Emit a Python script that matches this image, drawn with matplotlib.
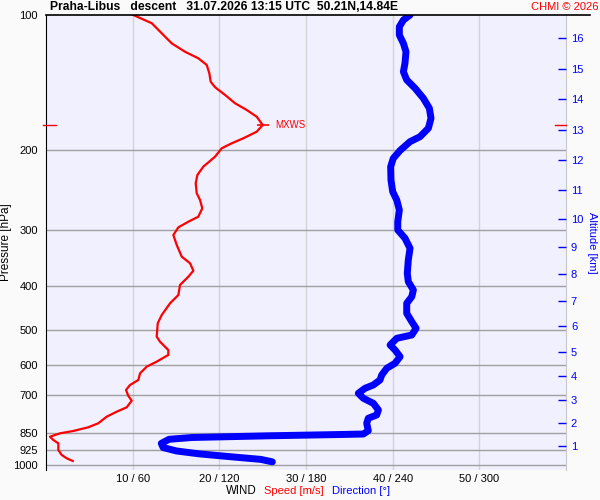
"""
Wind speed / direction profile from a radiosonde descent (CHMI Praha-Libus).
"""
import matplotlib
matplotlib.use("Agg")
import matplotlib.pyplot as plt
import matplotlib.transforms as mtransforms
from matplotlib.lines import Line2D

plt.rcParams["font.family"] = ["Liberation Sans", "DejaVu Sans"]

# wind speed profile, m/s against pressure, hPa
SPEED_P = [100, 104.3, 109.8, 115.6, 120.7, 124.8, 129.1, 134.7, 140.7, 144.7,
           150.5, 157.1, 162.6, 168.3, 175.6, 181.7, 187.9, 192.8, 197.8, 206.5,
           217.3, 226.8, 236.6, 249.0, 257.7, 268.9, 280.7, 288.0, 296.4, 308.3,
           324.4, 344.4, 356.3, 370.0, 381.6, 398.1, 419.0, 437.2, 464.2, 484.3,
           518.7, 532.1, 555.2, 569.5, 589.3, 604.6, 625.5, 647.3, 664.1, 681.3,
           702.5, 719.6, 744.4, 761.3, 781.0, 807.8, 824.5, 840.3, 850.4, 865.2,
           879.9, 895.0, 926.1, 950.1, 966.3, 979.7]
SPEED = [10.07, 12.2, 13.35, 14.5, 16.04, 17.57, 18.54, 18.84, 19.0, 19.5,
         20.65, 21.81, 23.16, 24.31, 25.0, 24.31, 22.77, 21.43, 20.27, 19.5,
         18.15, 17.46, 17.27, 17.39, 17.77, 18.03, 17.57, 16.42, 15.27, 14.69,
         15.08, 15.66, 16.62, 17.0, 16.42, 15.46, 15.27, 14.31, 13.35, 12.89,
         12.77, 13.15, 14.11, 14.11, 12.77, 11.62, 10.85, 10.65, 9.69, 9.23,
         9.5, 9.89, 9.31, 8.16, 7.0, 6.03, 4.88, 3.15, 1.62, 0.46,
         0.84, 1.42, 1.42, 1.81, 2.39, 3.08]

# wind direction profile, degrees against pressure, hPa
DIR_P = [100, 102.6, 106.2, 110.8, 115.6, 120.7, 128.0, 133.7, 139.4, 145.5,
         153.1, 161.2, 169.7, 178.5, 186.4, 191.2, 200.0, 208.2, 217.3, 232.6,
         247.0, 257.7, 271.2, 288.0, 300.4, 313.4, 330.0, 350.3, 375.0, 391.4,
         408.4, 422.7, 437.2, 460.2, 480.4, 496.9, 514.2, 523.0, 541.2, 555.2,
         574.5, 594.3, 609.6, 631.0, 647.3, 664.1, 675.5, 693.0, 710.9, 729.4,
         754.7, 774.3, 787.4, 807.8, 839.0, 853.5, 855.2, 861.3, 868.8, 876.8,
         895.4, 914.9, 930.9, 944.8, 958.5, 971.8, 984.2]
DIRECTION = [252.0, 247.4, 244.6, 244.6, 247.4, 249.2, 248.5, 247.4, 249.7, 255.5,
             261.2, 265.4, 266.5, 264.7, 258.9, 252.0, 245.1, 240.4, 238.6, 238.8,
             240.0, 242.8, 244.6, 243.5, 243.5, 248.5, 252.0, 250.8, 250.1, 250.8,
             254.3, 253.2, 249.7, 249.7, 253.2, 256.2, 253.2, 242.8, 238.2, 241.6,
             245.1, 241.6, 235.9, 232.4, 231.2, 226.6, 220.8, 216.2, 219.7, 226.6,
             230.1, 228.9, 223.1, 222.0, 223.1, 219.7, 207.0, 154.0, 101.0, 85.2,
             79.8, 81.1, 90.4, 106.3, 127.5, 148.7, 156.7]

# max wind
MXWS_P = 175.6
MXWS_SPEED = 25.0

P_LEVELS = [100, 200, 300, 400, 500, 600, 700, 850, 925, 1000]
SPEED_TICKS = [10, 20, 30, 40, 50]
SPEED_LABELS = ["10 / 60", "20 / 120", "30 / 180", "40 / 240", "50 / 300"]

ALT_KM = [1, 2, 3, 4, 5, 6, 7, 8, 9, 10, 11, 12, 13, 14, 15, 16]
ALT_P = [907.5, 805.4, 717.0, 633.4, 560.0, 491.2, 432.1, 376.3, 327.3, 284.1,
         244.8, 210.0, 180.0, 153.7, 131.8, 112.5]

BLUE = "#0000ff"
RED = "#ff0000"


def main():
    fig = plt.figure(figsize=(6, 5), dpi=100, facecolor="#fafafa")
    ax = fig.add_axes([0.0767, 0.06, 0.8667, 0.91])
    ax.set_facecolor("#f0f0ff")
    ax.set_yscale("log")
    ax.set_ylim(1026, 100)
    ax.set_xlim(0, 60)

    # grid
    for s in SPEED_TICKS:
        ax.axvline(s, color="#d4d4d4", linewidth=1, zorder=1)
    for p in P_LEVELS[1:]:
        ax.axhline(p, color="#a0a0a0", linewidth=1, zorder=1)

    # direction (scaled 0..360 onto 0..60)
    ax.plot([d / 6.0 for d in DIRECTION], DIR_P, color=BLUE, linewidth=5,
            solid_capstyle="round", solid_joinstyle="round", zorder=3)
    ax.plot(SPEED, SPEED_P, color=RED, linewidth=1.6, zorder=4)

    # max wind marker
    ax.plot([MXWS_SPEED], [MXWS_P], marker="_", markersize=8, mew=1.2,
            color=RED, zorder=5)
    ax.annotate("MXWS", (MXWS_SPEED, MXWS_P), xytext=(9, 0),
                textcoords="offset points", color=RED, fontsize=7, va="center")
    trans = mtransforms.blended_transform_factory(ax.transAxes, ax.transData)
    ax.plot([-0.006, 0.02], [MXWS_P, MXWS_P], color=RED, linewidth=1,
            transform=trans, clip_on=False, zorder=5)
    ax.plot([0.978, 1.0], [MXWS_P, MXWS_P], color=RED, linewidth=1,
            transform=trans, clip_on=False, zorder=5)

    # left axis
    ax.set_yticks(P_LEVELS)
    ax.set_yticklabels([str(p) for p in P_LEVELS])
    ax.minorticks_off()
    ax.tick_params(axis="y", length=0, pad=6, labelsize=8)
    ax.set_ylabel("Pressure [hPa]", fontsize=8.5, labelpad=0.5)
    ax.set_xticks(SPEED_TICKS)
    ax.set_xticklabels(SPEED_LABELS)
    ax.tick_params(axis="x", length=0, pad=3, labelsize=8)

    for side in ("top", "bottom"):
        ax.spines[side].set_visible(False)
    ax.spines["left"].set_color("black")
    ax.spines["right"].set_color("#c8c8c8")

    # right axis: altitude
    ax2 = ax.twinx()
    ax2.set_yscale("log")
    ax2.set_ylim(1026, 100)
    ax2.set_yticks(ALT_P)
    ax2.set_yticklabels([str(a) for a in ALT_KM])
    ax2.minorticks_off()
    ax2.tick_params(axis="y", direction="in", length=6, width=1, colors=BLUE,
                    labelcolor=BLUE, labelsize=8, pad=-1)
    for lbl in ax2.get_yticklabels():
        lbl.set_x(1.012)
    ax2.set_ylabel("Altitude [km]", color=BLUE, fontsize=8, rotation=-90,
                   labelpad=10)
    for side in ("top", "bottom", "left", "right"):
        ax2.spines[side].set_visible(False)

    # top black line reaching past the right axis
    fig.add_artist(Line2D([0.0767, 0.983], [0.97, 0.97], color="black",
                          linewidth=1.2))

    fig.text(0.083, 0.986, "Praha-Libus   descent   31.07.2026 13:15 UTC  50.21N,14.84E",
             fontsize=8.7, fontweight="bold", va="center", ha="left")
    fig.text(0.997, 0.986, "CHMI \u00a9 2026", color=RED, fontsize=8,
             va="center", ha="right")

    fig.text(0.376, 0.018, "WIND", fontsize=8.3, va="center", ha="left")
    fig.text(0.44, 0.018, "Speed [m/s]", color=RED, fontsize=8, va="center", ha="left")
    fig.text(0.553, 0.018, "Direction [\u00b0]", color=BLUE, fontsize=8,
             va="center", ha="left")

    fig.savefig("out.png", dpi=100, facecolor=fig.get_facecolor())
    plt.close(fig)


if __name__ == "__main__":
    main()
